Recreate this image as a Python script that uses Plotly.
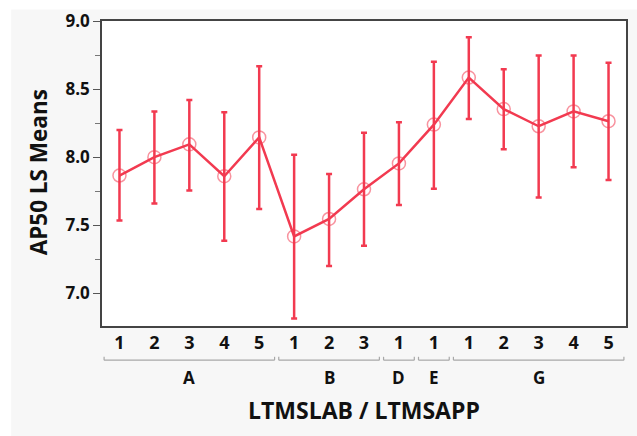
import plotly.graph_objects as go

groups = ["A", "A", "A", "A", "A", "B", "B", "B", "D", "E", "G", "G", "G", "G", "G"]
apps = ["1", "2", "3", "4", "5", "1", "2", "3", "1", "1", "1", "2", "3", "4", "5"]
means = [7.865, 8.00, 8.094, 7.86, 8.145, 7.418, 7.546, 7.764, 7.954, 8.239, 8.585, 8.353, 8.227, 8.336, 8.264]
upper = [8.20, 8.336, 8.42, 8.33, 8.667, 8.017, 7.877, 8.179, 8.256, 8.70, 8.88, 8.645, 8.746, 8.746, 8.693]
lower = [7.534, 7.66, 7.756, 7.387, 7.62, 6.815, 7.20, 7.35, 7.648, 7.768, 8.28, 8.058, 7.703, 7.925, 7.833]
group_names = ["A", "B", "D", "E", "G"]
y_ticks = [7.0, 7.5, 8.0, 8.5, 9.0]

RED = "#f23a50"
FONT = "Open Sans"
xs = list(range(len(means)))

fig = go.Figure()
fig.add_trace(go.Scatter(
    x=xs, y=means, mode="lines+markers",
    line=dict(color=RED, width=2.5),
    marker=dict(symbol="circle-open", size=13, color="rgba(242,58,80,0.55)", line=dict(width=1.5)),
    error_y=dict(type="data", symmetric=False,
                 array=[u - m for u, m in zip(upper, means)],
                 arrayminus=[m - l for m, l in zip(means, lower)],
                 color=RED, thickness=2.5, width=3),
    showlegend=False, hoverinfo="skip",
))

shapes = [
    dict(type="rect", xref="paper", yref="paper", x0=-0.3, x1=-0.1734, y0=-0.5, y1=1.2,
         fillcolor="white", line=dict(width=0), layer="below"),
    dict(type="rect", xref="paper", yref="paper", x0=-0.3, x1=1.1, y0=1.0378, y1=1.2,
         fillcolor="white", line=dict(width=0), layer="below"),
]
annotations = []
yb = -0.112
yt = -0.101
for g in group_names:
    idx = [i for i, gg in enumerate(groups) if gg == g]
    a, b = idx[0] - 0.44, idx[-1] + 0.44
    for (x0, x1, y0, y1) in [(a, b, yb, yb), (a, a, yb, yt), (b, b, yb, yt)]:
        shapes.append(dict(type="line", xref="x", yref="paper", x0=x0, x1=x1, y0=y0, y1=y1,
                           line=dict(color="#a8a8a8", width=1.2)))
    annotations.append(dict(x=(idx[0] + idx[-1]) / 2, y=-0.168, xref="x", yref="paper",
                            text="<b>%s</b>" % g, showarrow=False,
                            font=dict(family=FONT, size=17, color="#111"),
                            xanchor="center", yanchor="middle"))

annotations.append(dict(x=0.5, y=-0.274, xref="paper", yref="paper",
                        text="<b>LTMSLAB / LTMSAPP</b>", showarrow=False,
                        font=dict(family=FONT, size=23, color="#111"),
                        xanchor="center", yanchor="middle"))
annotations.append(dict(x=-0.122, y=0.504, xref="paper", yref="paper",
                        text="<b>AP50 LS Means</b>", showarrow=False, textangle=-90,
                        font=dict(family=FONT, size=22.5, color="#111"),
                        xanchor="center", yanchor="middle"))

fig.update_layout(
    width=637, height=436,
    margin=dict(l=102, r=9, t=17, b=110),
    paper_bgcolor="#f7f7f7", plot_bgcolor="white",
    shapes=shapes, annotations=annotations,
    font=dict(family=FONT, color="#111"),
)
fig.update_xaxes(
    range=[-0.5, len(means) - 0.5], tickmode="array", tickvals=xs,
    ticktext=["<b>%s</b>" % a for a in apps],
    tickfont=dict(family=FONT, size=18, color="#111"),
    ticks="", showgrid=False, zeroline=False,
    showline=True, linecolor="#444", linewidth=1.5, mirror=True,
)
fig.update_yaxes(
    range=[6.76, 9.0], tickmode="array", tickvals=y_ticks,
    ticktext=["<b>%.1f</b>" % v for v in y_ticks],
    tickfont=dict(family=FONT, size=17, color="#111"),
    ticks="outside", ticklen=7, tickcolor="#555", tickwidth=1,
    minor=dict(tickmode="array", tickvals=[7.25, 7.75, 8.25, 8.75], ticks="outside", ticklen=5, tickcolor="#777"),
    showgrid=False, zeroline=False,
    showline=True, linecolor="#444", linewidth=1.5, mirror=True,
)

fig.write_html("out.html")
